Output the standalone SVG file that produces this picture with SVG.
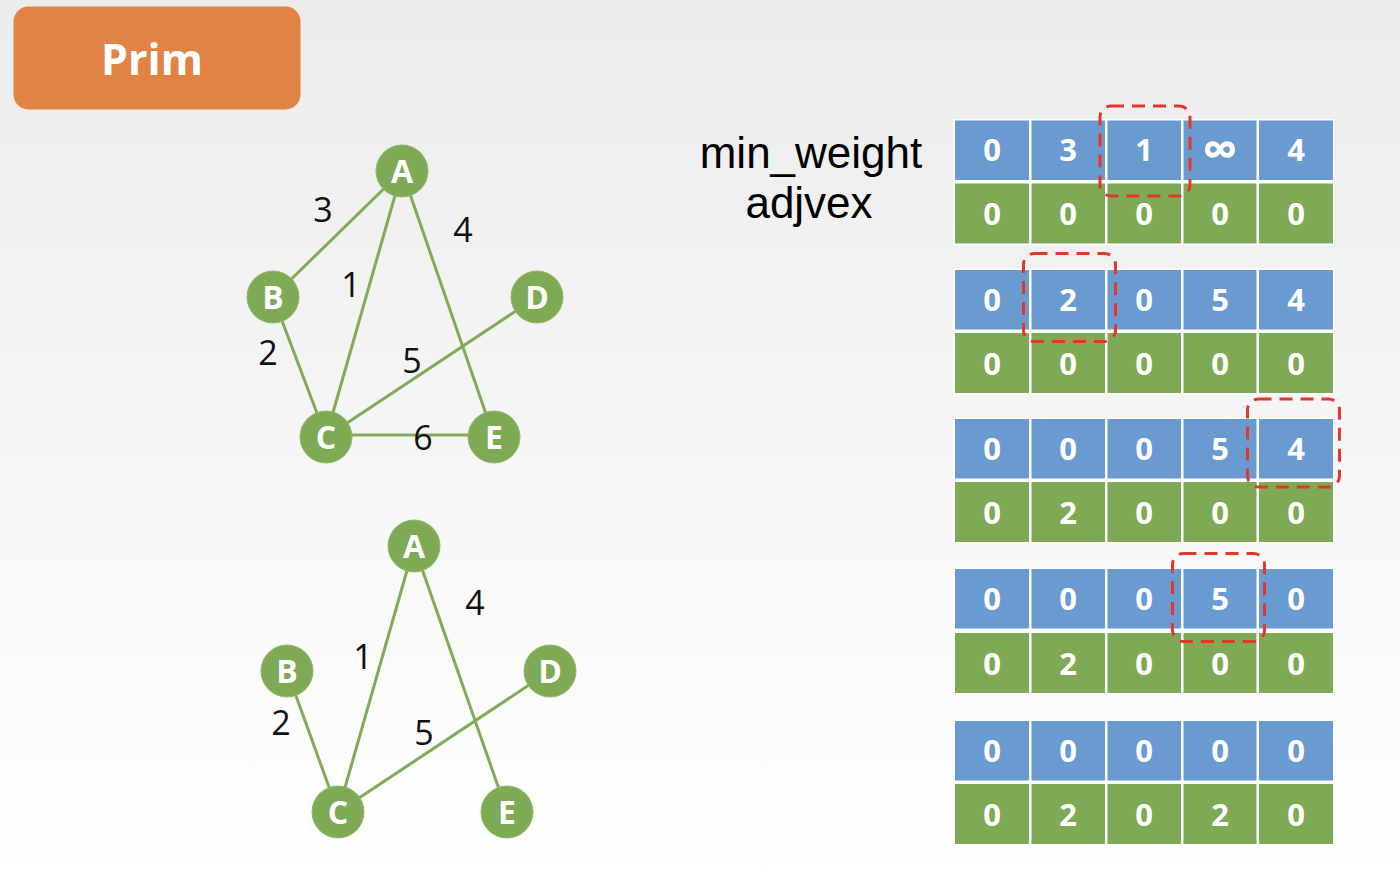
<svg xmlns="http://www.w3.org/2000/svg" width="1400" height="872" viewBox="0 0 1400 872">
<defs>
<linearGradient id="bg" x1="0" y1="0" x2="0" y2="1">
<stop offset="0" stop-color="#ececec"/>
<stop offset="1" stop-color="#ffffff"/>
</linearGradient>
<style>
.edge{stroke:#80ab57;stroke-width:3;fill:none}
.node circle{fill:#7faa55;stroke:#8fb86a;stroke-width:1}
.node text{fill:#ffffff;font-family:"Open Sans","Noto Sans",sans-serif;font-weight:700;font-size:32px;text-anchor:middle}
.wl{fill:#111111;font-family:"Open Sans","Noto Sans",sans-serif;font-size:34px;text-anchor:middle}
.tbg{fill:#ffffff}
.b{fill:#6a9bd0}
.g{fill:#7faa55}
.ct{fill:#ffffff;font-family:"Open Sans","Noto Sans",sans-serif;font-weight:700;font-size:31px;text-anchor:middle}
.hl{fill:none;stroke:#e5362c;stroke-width:3;stroke-dasharray:13 8}
.lbl{fill:#000000;font-family:"Liberation Sans",Arial,sans-serif;font-size:44px;text-anchor:middle}
</style>
</defs>
<rect x="0" y="0" width="1400" height="872" fill="url(#bg)"/>

<g id="title">
<rect x="13.5" y="6.5" width="287" height="103" rx="15" fill="#e08345"/>
<text x="152" y="75" fill="#ffffff" font-family="'Open Sans','Noto Sans',sans-serif" font-weight="700" font-size="43" text-anchor="middle">Prim</text>
</g>

<g id="connectors">
<line class="edge" x1="402" y1="171" x2="273" y2="297"/>
<line class="edge" x1="402" y1="171" x2="326" y2="437"/>
<line class="edge" x1="402" y1="171" x2="494" y2="437"/>
<line class="edge" x1="273" y1="297" x2="326" y2="437"/>
<line class="edge" x1="537" y1="297" x2="326" y2="437"/>
<line class="edge" x1="326" y1="435" x2="494" y2="435"/>
<line class="edge" x1="414" y1="546" x2="338" y2="812"/>
<line class="edge" x1="414" y1="546" x2="507" y2="812"/>
<line class="edge" x1="287" y1="671" x2="338" y2="812"/>
<line class="edge" x1="550" y1="671" x2="338" y2="812"/>
</g>

<g id="weights1">
<text class="wl" x="323" y="222">3</text>
<text class="wl" x="463" y="242">4</text>
<text class="wl" x="351" y="297">1</text>
<text class="wl" x="268" y="365">2</text>
<text class="wl" x="412" y="373">5</text>
<text class="wl" x="423" y="450">6</text>
</g>
<g id="weights2">
<text class="wl" x="475" y="615">4</text>
<text class="wl" x="363" y="669">1</text>
<text class="wl" x="281" y="735">2</text>
<text class="wl" x="424" y="745">5</text>
</g>

<g id="g1-A" class="node"><circle cx="402" cy="171" r="26"/><text x="402" y="183">A</text></g>
<g id="g1-B" class="node"><circle cx="273" cy="297" r="26"/><text x="273" y="309">B</text></g>
<g id="g1-D" class="node"><circle cx="537" cy="297" r="26"/><text x="537" y="309">D</text></g>
<g id="g1-C" class="node"><circle cx="326" cy="437" r="26"/><text x="326" y="449">C</text></g>
<g id="g1-E" class="node"><circle cx="494" cy="437" r="26"/><text x="494" y="449">E</text></g>

<g id="g2-A" class="node"><circle cx="414" cy="546" r="26"/><text x="414" y="558">A</text></g>
<g id="g2-B" class="node"><circle cx="287" cy="671" r="26"/><text x="287" y="683">B</text></g>
<g id="g2-D" class="node"><circle cx="550" cy="671" r="26"/><text x="550" y="683">D</text></g>
<g id="g2-C" class="node"><circle cx="338" cy="812" r="26"/><text x="338" y="824">C</text></g>
<g id="g2-E" class="node"><circle cx="507" cy="812" r="26"/><text x="507" y="824">E</text></g>

<g id="labels">
<text class="lbl" x="811" y="168">min_weight</text>
<text class="lbl" x="809" y="218">adjvex</text>
</g>

<g id="table1">
<rect class="tbg" x="953" y="119" width="381" height="126"/>
<rect class="b" x="955" y="120.5" width="74" height="59.5"/><rect class="b" x="1031.5" y="120.5" width="73.5" height="59.5"/><rect class="b" x="1107.5" y="120.5" width="73.5" height="59.5"/><rect class="b" x="1183.5" y="120.5" width="73" height="59.5"/><rect class="b" x="1259" y="120.5" width="74" height="59.5"/>
<rect class="g" x="955" y="183.5" width="74" height="60"/><rect class="g" x="1031.5" y="183.5" width="73.5" height="60"/><rect class="g" x="1107.5" y="183.5" width="73.5" height="60"/><rect class="g" x="1183.5" y="183.5" width="73" height="60"/><rect class="g" x="1259" y="183.5" width="74" height="60"/>
<text class="ct" x="992" y="161">0</text><text class="ct" x="1068" y="161">3</text><text class="ct" x="1144" y="161">1</text><text class="ct" x="1220" y="167" style="font-size:50px">∞</text><text class="ct" x="1296" y="161">4</text>
<text class="ct" x="992" y="225">0</text><text class="ct" x="1068" y="225">0</text><text class="ct" x="1144" y="225">0</text><text class="ct" x="1220" y="225">0</text><text class="ct" x="1296" y="225">0</text>
<rect class="hl" x="1100" y="106" width="90" height="90" rx="11"/>
</g>

<g id="table2">
<rect class="tbg" x="953" y="268.5" width="381" height="126"/>
<rect class="b" x="955" y="270" width="74" height="59.5"/><rect class="b" x="1031.5" y="270" width="73.5" height="59.5"/><rect class="b" x="1107.5" y="270" width="73.5" height="59.5"/><rect class="b" x="1183.5" y="270" width="73" height="59.5"/><rect class="b" x="1259" y="270" width="74" height="59.5"/>
<rect class="g" x="955" y="333" width="74" height="60"/><rect class="g" x="1031.5" y="333" width="73.5" height="60"/><rect class="g" x="1107.5" y="333" width="73.5" height="60"/><rect class="g" x="1183.5" y="333" width="73" height="60"/><rect class="g" x="1259" y="333" width="74" height="60"/>
<text class="ct" x="992" y="311">0</text><text class="ct" x="1068" y="311">2</text><text class="ct" x="1144" y="311">0</text><text class="ct" x="1220" y="311">5</text><text class="ct" x="1296" y="311">4</text>
<text class="ct" x="992" y="375">0</text><text class="ct" x="1068" y="375">0</text><text class="ct" x="1144" y="375">0</text><text class="ct" x="1220" y="375">0</text><text class="ct" x="1296" y="375">0</text>
<rect class="hl" x="1023.5" y="253.5" width="92" height="88" rx="11"/>
</g>

<g id="table3">
<rect class="tbg" x="953" y="417.5" width="381" height="126"/>
<rect class="b" x="955" y="419" width="74" height="59.5"/><rect class="b" x="1031.5" y="419" width="73.5" height="59.5"/><rect class="b" x="1107.5" y="419" width="73.5" height="59.5"/><rect class="b" x="1183.5" y="419" width="73" height="59.5"/><rect class="b" x="1259" y="419" width="74" height="59.5"/>
<rect class="g" x="955" y="482" width="74" height="60"/><rect class="g" x="1031.5" y="482" width="73.5" height="60"/><rect class="g" x="1107.5" y="482" width="73.5" height="60"/><rect class="g" x="1183.5" y="482" width="73" height="60"/><rect class="g" x="1259" y="482" width="74" height="60"/>
<text class="ct" x="992" y="460">0</text><text class="ct" x="1068" y="460">0</text><text class="ct" x="1144" y="460">0</text><text class="ct" x="1220" y="460">5</text><text class="ct" x="1296" y="460">4</text>
<text class="ct" x="992" y="524">0</text><text class="ct" x="1068" y="524">2</text><text class="ct" x="1144" y="524">0</text><text class="ct" x="1220" y="524">0</text><text class="ct" x="1296" y="524">0</text>
<rect class="hl" x="1247.5" y="399" width="92" height="88" rx="11"/>
</g>

<g id="table4">
<rect class="tbg" x="953" y="567.5" width="381" height="127"/>
<rect class="b" x="955" y="569" width="74" height="59.5"/><rect class="b" x="1031.5" y="569" width="73.5" height="59.5"/><rect class="b" x="1107.5" y="569" width="73.5" height="59.5"/><rect class="b" x="1183.5" y="569" width="73" height="59.5"/><rect class="b" x="1259" y="569" width="74" height="59.5"/>
<rect class="g" x="955" y="633" width="74" height="60"/><rect class="g" x="1031.5" y="633" width="73.5" height="60"/><rect class="g" x="1107.5" y="633" width="73.5" height="60"/><rect class="g" x="1183.5" y="633" width="73" height="60"/><rect class="g" x="1259" y="633" width="74" height="60"/>
<text class="ct" x="992" y="610">0</text><text class="ct" x="1068" y="610">0</text><text class="ct" x="1144" y="610">0</text><text class="ct" x="1220" y="610">5</text><text class="ct" x="1296" y="610">0</text>
<text class="ct" x="992" y="675">0</text><text class="ct" x="1068" y="675">2</text><text class="ct" x="1144" y="675">0</text><text class="ct" x="1220" y="675">0</text><text class="ct" x="1296" y="675">0</text>
<rect class="hl" x="1172.5" y="553.5" width="92" height="88" rx="11"/>
</g>

<g id="table5">
<rect class="tbg" x="953" y="719.5" width="381" height="126"/>
<rect class="b" x="955" y="721" width="74" height="59.5"/><rect class="b" x="1031.5" y="721" width="73.5" height="59.5"/><rect class="b" x="1107.5" y="721" width="73.5" height="59.5"/><rect class="b" x="1183.5" y="721" width="73" height="59.5"/><rect class="b" x="1259" y="721" width="74" height="59.5"/>
<rect class="g" x="955" y="784" width="74" height="60"/><rect class="g" x="1031.5" y="784" width="73.5" height="60"/><rect class="g" x="1107.5" y="784" width="73.5" height="60"/><rect class="g" x="1183.5" y="784" width="73" height="60"/><rect class="g" x="1259" y="784" width="74" height="60"/>
<text class="ct" x="992" y="762">0</text><text class="ct" x="1068" y="762">0</text><text class="ct" x="1144" y="762">0</text><text class="ct" x="1220" y="762">0</text><text class="ct" x="1296" y="762">0</text>
<text class="ct" x="992" y="826">0</text><text class="ct" x="1068" y="826">2</text><text class="ct" x="1144" y="826">0</text><text class="ct" x="1220" y="826">2</text><text class="ct" x="1296" y="826">0</text>
</g>
</svg>
